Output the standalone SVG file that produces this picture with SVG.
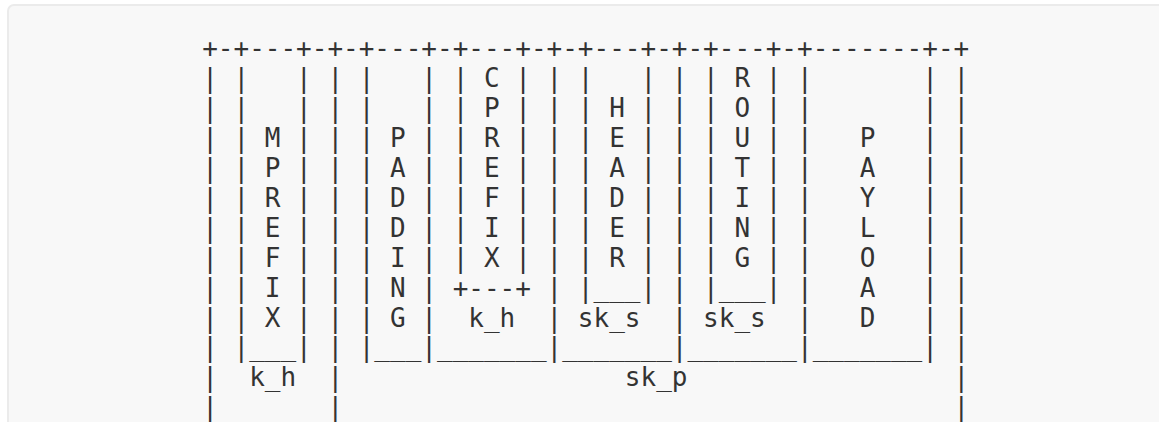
<svg xmlns="http://www.w3.org/2000/svg" width="1159" height="422" viewBox="0 0 1159 422">
  <style>
    .bg { fill: #f8f8f8; stroke: #ebebeb; stroke-width: 2; }
    .ln { font-family: "DejaVu Sans Mono", "Liberation Mono", monospace; font-size: 26px; fill: #333333; white-space: pre; }
  </style>
  <rect width="1159" height="422" fill="#ffffff"/>
  <rect class="bg" x="8" y="5" width="1200" height="480" rx="6" ry="6"/>
  <g id="ascii-diagram">
    <text class="ln" xml:space="preserve" x="202.2" y="57.4">+-+---+-+-+---+-+---+-+-+---+-+-+---+-+-------+-+</text>
    <text class="ln" xml:space="preserve" x="202.2" y="87.3">| |   | | |   | | C | | |   | | | R | |       | |</text>
    <text class="ln" xml:space="preserve" x="202.2" y="117.2">| |   | | |   | | P | | | H | | | O | |       | |</text>
    <text class="ln" xml:space="preserve" x="202.2" y="147.1">| | M | | | P | | R | | | E | | | U | |   P   | |</text>
    <text class="ln" xml:space="preserve" x="202.2" y="177.0">| | P | | | A | | E | | | A | | | T | |   A   | |</text>
    <text class="ln" xml:space="preserve" x="202.2" y="206.9">| | R | | | D | | F | | | D | | | I | |   Y   | |</text>
    <text class="ln" xml:space="preserve" x="202.2" y="236.8">| | E | | | D | | I | | | E | | | N | |   L   | |</text>
    <text class="ln" xml:space="preserve" x="202.2" y="266.7">| | F | | | I | | X | | | R | | | G | |   O   | |</text>
    <text class="ln" xml:space="preserve" x="202.2" y="296.6">| | I | | | N | +---+ | |___| | |___| |   A   | |</text>
    <text class="ln" xml:space="preserve" x="202.2" y="326.5">| | X | | | G |  k_h  | sk_s  | sk_s  |   D   | |</text>
    <text class="ln" xml:space="preserve" x="202.2" y="356.4">| |___| | |___|_______|_______|_______|_______| |</text>
    <text class="ln" xml:space="preserve" x="202.2" y="386.3">|  k_h  |                  sk_p                 |</text>
    <text class="ln" xml:space="preserve" x="202.2" y="416.2">|       |                                       |</text>
  </g>
</svg>
